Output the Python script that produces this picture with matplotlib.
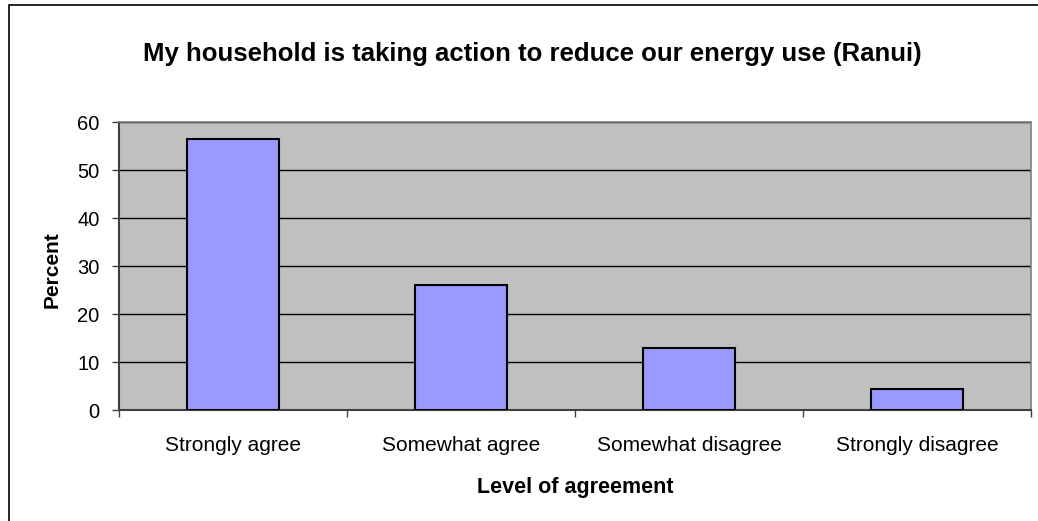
import matplotlib.pyplot as plt
import numpy as np
from matplotlib.patches import Rectangle

#survey answers (Ranui)
levels = ['Strongly agree', 'Somewhat agree', 'Somewhat disagree', 'Strongly disagree']
percent = [56.5, 26.0, 13.0, 4.3]
yticks = [0, 10, 20, 30, 40, 50, 60]

plt.rcParams['font.family'] = ['Liberation Sans', 'DejaVu Sans']

fig = plt.figure(figsize=(10.38, 5.21), dpi=100)
ax = fig.add_axes([119/1038, 1-410/521, 912/1038, 288/521])
ax.set_facecolor('#C0C0C0')

x = np.arange(len(levels))
ax.bar(x, percent, width=0.4, color='#9999FF', edgecolor='black', linewidth=1.5, zorder=3)

ax.set_xlim(-0.5, 3.5)
ax.set_ylim(0, 60)
ax.set_yticks(yticks)
ax.yaxis.grid(True, color='black', linewidth=1, zorder=0)
ax.tick_params(axis='y', direction='out', length=5, width=1, color='#404040', pad=9, labelsize=14.5)

#category ticks sit between the bars, labels under the bars
ax.set_xticks(np.arange(-0.5, 4, 1))
ax.set_xticklabels([])
ax.set_xticks(x, minor=True)
ax.set_xticklabels(levels, minor=True, fontsize=15)
ax.tick_params(axis='x', which='major', direction='out', length=5, width=1, color='#404040')
ax.tick_params(axis='x', which='minor', length=0, pad=19)

for s in ['left', 'bottom']:
    ax.spines[s].set_color('#404040')
    ax.spines[s].set_linewidth(1.5)
for s in ['top', 'right']:
    ax.spines[s].set_color('#808080')
    ax.spines[s].set_linewidth(1.2)

fig.text(532/1038, 1-54/521, 'My household is taking action to reduce our energy use (Ranui)',
         ha='center', va='center', fontsize=18.5, fontweight='bold')
fig.text(575/1038, 1-488/521, 'Level of agreement', ha='center', va='center', fontsize=15.5, fontweight='bold')
fig.text(52/1038, 1-270/521, 'Percent', ha='center', va='center', rotation=90, fontsize=15, fontweight='bold')

#chart frame, only the top and left edges show
fig.patches.append(Rectangle((9/1038, -0.1), 1.2, 1.1-5/521, transform=fig.transFigure,
                             fill=False, edgecolor='black', linewidth=1.2))

plt.savefig('out.png')
